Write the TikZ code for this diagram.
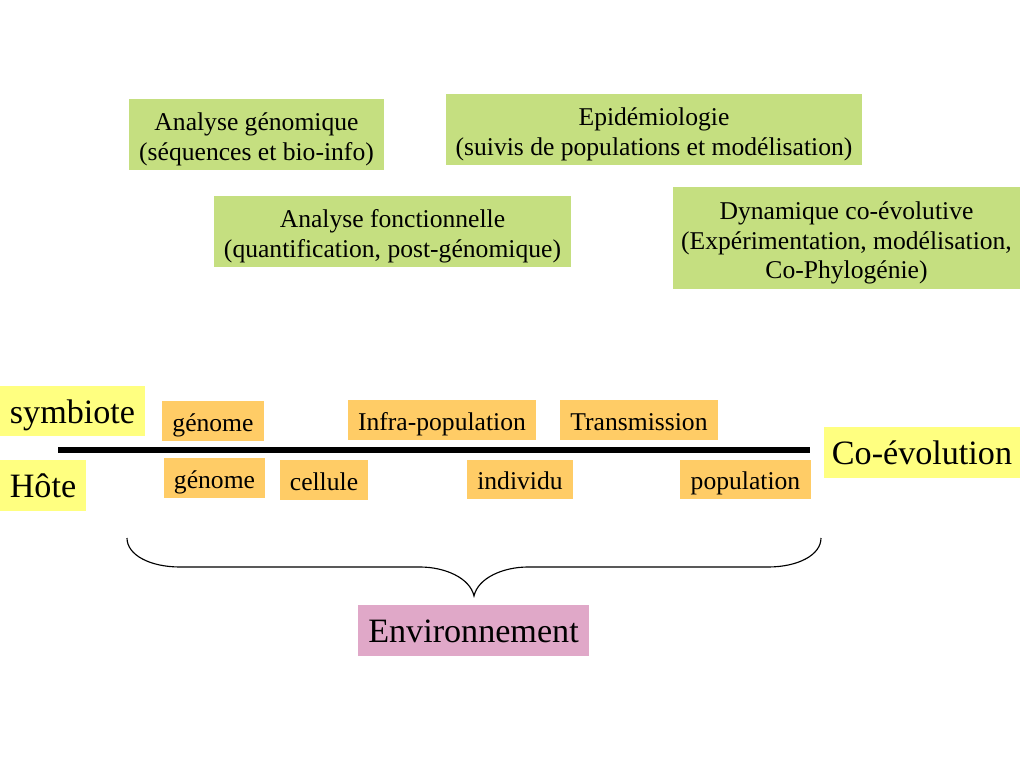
\documentclass[tikz,border=0pt]{standalone}
\usepackage{fontspec}
\setmainfont{Liberation Serif}
\definecolor{boxGreen}{RGB}{197,223,128}
\definecolor{boxYellow}{RGB}{255,255,128}
\definecolor{boxOrange}{RGB}{255,204,102}
\definecolor{boxPink}{RGB}{224,168,200}
\newcommand{\fieldstrut}{\rule{0pt}{19.5pt}}
\begin{document}
\begin{tikzpicture}[x=0.703pt,y=-0.703pt,
    field/.style={fill=boxGreen,inner sep=0pt,align=center,minimum height=49.9pt,font=\fontsize{18}{21}\selectfont},
    level/.style={fill=boxOrange,inner sep=0pt,minimum height=28.1pt,font=\fontsize{18}{21}\selectfont,
      text height=18.5pt,text depth=4pt},
    actor/.style={fill=boxYellow,inner sep=0pt,minimum height=35.5pt,font=\fontsize{24}{28}\selectfont,
      text height=22.5pt,text depth=5.3pt}]
    \useasboundingbox (0,0) rectangle (1024,768);

    \node[field,minimum width=179.3pt] (anaGenomique) at (256.5,134.5) {\fieldstrut Analyse génomique\\(séquences et bio-info)};
    \node[field,minimum width=292.4pt] (epidemio) at (654,129.5) {\fieldstrut Epidémiologie\\(suivis de populations et modélisation)};
    \node[field,minimum width=251pt] (anaFonctionnelle) at (392.5,231.5) {\fieldstrut Analyse fonctionnelle\\(quantification, post-génomique)};
    \node[field,minimum width=243.9pt,minimum height=71.7pt] (dynCoevo) at (846.5,238) {\fieldstrut Dynamique co-évolutive\\(Expérimentation, modélisation,\\Co-Phylogénie)};

    \node[actor,minimum width=101.9pt] (symbiote) at (72.5,411) {symbiote};
    \node[actor,minimum width=60.5pt] (hote) at (43,485.5) {Hôte};
    \node[actor,minimum width=137.8pt] (coevolution) at (922,452.5) {Co-évolution};

    \node[level,minimum width=71.7pt] (genomeSymb) at (213,421) {génome};
    \node[level,minimum width=131.5pt] (infraPop) at (442,420) {Infra-population};
    \node[level,minimum width=111pt] (transmission) at (639,420) {Transmission};

    \node[level,minimum width=71pt] (genomeHote) at (214.5,478) {génome};
    \node[level,minimum width=61.9pt] (cellule) at (324,480) {cellule};
    \node[level,minimum width=74.5pt] (individu) at (520,479.5) {individu};
    \node[level,minimum width=92.1pt] (population) at (745.5,479.5) {population};

    \coordinate (axisLeft) at (58,450);
    \coordinate (axisRight) at (810,450);
    \draw[line width=4.2pt] (axisLeft) -- (axisRight);

    \node[fill=boxPink,inner sep=0pt,minimum width=162.4pt,minimum height=35.9pt,font=\fontsize{24}{28}\selectfont,
      text height=22.5pt,text depth=5.3pt] (environnement) at (473.5,630.5) {Environnement};

    \coordinate (braceLeft) at (127,538);
    \coordinate (braceTip) at (474,596);
    \coordinate (braceRight) at (821,538);
    \draw[line width=0.8pt] (braceLeft) .. controls (127,555) and (150,567) .. (180,567) -- (420,567)
        .. controls (445,567) and (470,578) .. (braceTip)
        .. controls (478,578) and (503,567) .. (528,567) -- (768,567)
        .. controls (798,567) and (821,555) .. (braceRight);
  \end{tikzpicture}
\end{document}
